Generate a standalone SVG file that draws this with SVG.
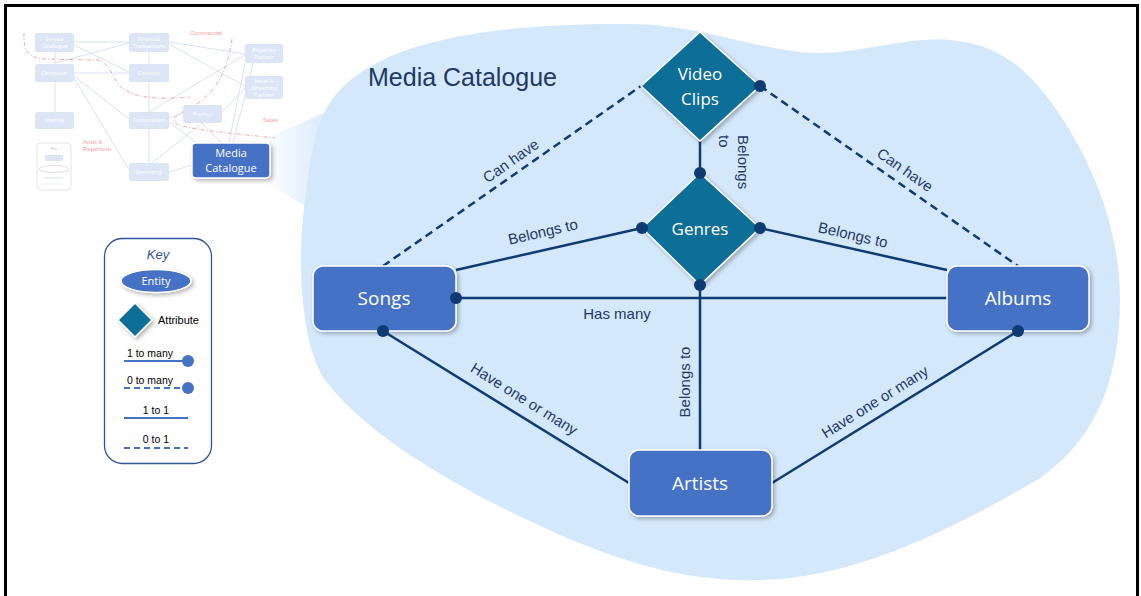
<svg xmlns="http://www.w3.org/2000/svg" width="1141" height="596" viewBox="0 0 1141 596">
<defs>
<style>
.ent{fill:#4472C4;stroke:#fff;stroke-width:1.5}
.attr{fill:#0A6E97;stroke:#fff;stroke-width:1.5}
.ntxt{font-family:"Open Sans","Noto Sans",sans-serif;fill:#fff;text-anchor:middle}
.ln{stroke:#0F3B73;stroke-width:2.5;fill:none}
.dash{stroke-dasharray:8 5}
.dot{fill:#0F3B73}
.lbl{font-family:"Liberation Sans",Arial,sans-serif;font-size:15px;fill:#1F3864;text-anchor:middle}
.mb{fill:#DCE5F5}
.mt{font-family:"Open Sans",sans-serif;font-size:5.5px;fill:#fff;text-anchor:middle}
.ml{stroke:#D9E2F3;stroke-width:1;fill:none}
.red{stroke:#F5AAAA;stroke-width:1;fill:none;stroke-dasharray:4 2 1 2}
.rt{font-family:"Liberation Sans",sans-serif;font-size:6px;fill:#F5A0A0}
.kl{stroke:#4472C4;stroke-width:2;fill:none}
.kt{font-family:"Liberation Sans",Arial,sans-serif;font-size:10.5px;fill:#000;text-anchor:middle}
</style>
<filter id="sh" x="-20%" y="-20%" width="150%" height="150%"><feDropShadow dx="2" dy="2" stdDeviation="2" flood-color="#000" flood-opacity="0.3"/></filter>
<linearGradient id="fan" x1="0" x2="1" y1="0" y2="0"><stop offset="0" stop-color="#D4E8FC" stop-opacity="0"/><stop offset="1" stop-color="#D4E8FC"/></linearGradient>
</defs>
<rect x="0" y="0" width="1141" height="596" fill="#fff"/>

<!-- blob -->
<g id="blob">
<polygon points="262,140 335,108 320,215 262,180" fill="url(#fan)"/>
<path d="M 322,118 C 350,50 460,24 620,24 C 690,22 740,45 800,52 C 850,58 900,36 950,40 C 1000,44 1030,70 1060,115 C 1100,175 1120,240 1120,300 C 1120,380 1095,440 1040,478 C 960,525 860,578 760,580 C 680,582 620,560 560,535 C 470,495 370,440 325,380 C 298,340 298,250 305,200 C 310,160 315,130 322,118 Z" fill="#D4E8FC"/>
</g>

<!-- faded overview diagram -->
<g id="overview">
<g class="ml">
<line x1="74" y1="42" x2="129" y2="42"/>
<line x1="74" y1="45" x2="129" y2="72"/>
<line x1="55" y1="63" x2="129" y2="43"/>
<line x1="55" y1="52" x2="55" y2="64"/>
<line x1="74" y1="73" x2="129" y2="73"/>
<line x1="74" y1="76" x2="129" y2="119"/>
<line x1="74" y1="78" x2="129" y2="170"/>
<line x1="55" y1="82" x2="55" y2="112"/>
<line x1="149" y1="52" x2="149" y2="64"/>
<line x1="149" y1="82" x2="149" y2="112"/>
<line x1="149" y1="129" x2="149" y2="163"/>
<line x1="169" y1="42" x2="245" y2="54"/>
<line x1="169" y1="44" x2="245" y2="86"/>
<line x1="149" y1="112" x2="245" y2="55"/>
<line x1="169" y1="118" x2="183" y2="113"/>
<line x1="222" y1="112" x2="245" y2="88"/>
<line x1="202" y1="123" x2="152" y2="163"/>
<line x1="202" y1="123" x2="222" y2="143"/>
<line x1="169" y1="122" x2="197" y2="143"/>
<line x1="245" y1="63" x2="229" y2="143"/>
<line x1="253" y1="63" x2="233" y2="143"/>
<line x1="169" y1="172" x2="192" y2="165"/>
</g>
<path class="red" d="M 24,33 C 23,50 28,58 45,59 L 97,60 C 110,62 112,78 122,88 C 135,98 160,100 190,97"/>
<path class="red" d="M 232,39 C 228,70 215,95 190,108 C 178,114 170,118 176,124 C 190,130 240,134 275,138"/>
<text class="rt" x="190" y="35">Commercial</text>
<text class="rt" x="263" y="122">Sales</text>
<text class="rt" x="83" y="144">Artist &amp;</text>
<text class="rt" x="83" y="151">Repertoire</text>
<rect class="mb" x="35" y="33" width="39" height="19" rx="2"/>
<text class="mt" x="54.5" y="41">Service</text><text class="mt" x="54.5" y="48">Catalogue</text>
<rect class="mb" x="129" y="33" width="40" height="19" rx="2"/>
<text class="mt" x="149" y="41">Financial</text><text class="mt" x="149" y="48">Transactions</text>
<rect class="mb" x="245" y="44" width="38" height="19" rx="2"/>
<text class="mt" x="264" y="52">Royalties</text><text class="mt" x="264" y="59">Partner</text>
<rect class="mb" x="35" y="64" width="39" height="18" rx="2"/>
<text class="mt" x="54.5" y="75">Composer</text>
<rect class="mb" x="129" y="64" width="40" height="18" rx="2"/>
<text class="mt" x="149" y="75">Contract</text>
<rect class="mb" x="245" y="76" width="38" height="23" rx="2"/>
<text class="mt" x="264" y="83">Retail &amp;</text><text class="mt" x="264" y="90">Streaming</text><text class="mt" x="264" y="97">Partner</text>
<rect class="mb" x="35" y="112" width="39" height="17" rx="2"/>
<text class="mt" x="54.5" y="122">Identity</text>
<rect class="mb" x="129" y="112" width="40" height="17" rx="2"/>
<text class="mt" x="149" y="122">Composition</text>
<rect class="mb" x="183" y="105" width="39" height="18" rx="2"/>
<text class="mt" x="202.5" y="116">Product</text>
<rect class="mb" x="129" y="163" width="40" height="18" rx="2"/>
<text class="mt" x="149" y="174">Recording</text>
<rect x="37" y="143" width="34" height="47" rx="4" fill="#fff" stroke="#DDDDDD" stroke-width="0.8"/>
<text x="54" y="150" font-family="Liberation Sans,sans-serif" font-size="3.5" fill="#BBBBBB" text-anchor="middle">Key</text>
<rect class="mb" x="45" y="155" width="18" height="6"/>
<ellipse cx="54" cy="169" rx="15" ry="3.5" fill="none" stroke="#CCCCCC" stroke-width="0.6"/>
<line x1="44" y1="178" x2="63" y2="178" stroke="#DCE5F5"/>
<line x1="44" y1="184" x2="63" y2="184" stroke="#DCE5F5" stroke-dasharray="2 1"/>
</g>

<g id="mini-media-catalogue">
<rect x="192" y="143" width="78" height="35" rx="4" class="ent" filter="url(#sh)"/>
<text class="ntxt" x="231" y="157" font-size="11">Media</text>
<text class="ntxt" x="231" y="172" font-size="11">Catalogue</text>
</g>

<!-- key -->
<g id="key">
<rect x="104.5" y="238.5" width="107" height="225" rx="18" fill="#fff" stroke="#2F5597" stroke-width="1.3"/>
<text x="158" y="259" font-family="Liberation Sans,Arial,sans-serif" font-size="13" font-style="italic" fill="#2F5597" text-anchor="middle">Key</text>
<ellipse cx="156" cy="281" rx="35" ry="11.5" class="ent" filter="url(#sh)"/>
<text class="ntxt" x="156" y="285" font-size="11">Entity</text>
<polygon points="135,303 152,320 135,337 118,320" class="attr" filter="url(#sh)"/>
<text x="158" y="324" font-family="Liberation Sans,Arial,sans-serif" font-size="11" fill="#000">Attribute</text>
<text class="kt" x="150" y="357">1 to many</text>
<line class="kl" x1="124" y1="361" x2="188" y2="361"/>
<circle cx="188" cy="361" r="6" fill="#4472C4"/>
<text class="kt" x="150" y="384">0 to many</text>
<line class="kl" x1="124" y1="388" x2="188" y2="388" stroke-dasharray="6 4"/>
<circle cx="188" cy="388" r="6" fill="#4472C4"/>
<text class="kt" x="156" y="414">1 to 1</text>
<line class="kl" x1="124" y1="418" x2="188" y2="418"/>
<text class="kt" x="156" y="443">0 to 1</text>
<line class="kl" x1="124" y1="448" x2="188" y2="448" stroke-dasharray="6 4"/>
</g>

<text x="368" y="86" font-family="Liberation Sans,Arial,sans-serif" font-size="25" fill="#1F3864">Media Catalogue</text>

<!-- connectors -->
<g id="connectors">
<line class="ln dash" x1="383" y1="266" x2="641" y2="86"/>
<line class="ln dash" x1="760" y1="86" x2="1018" y2="266"/>
<line class="ln" x1="700" y1="141" x2="700" y2="173"/>
<line class="ln" x1="456" y1="270" x2="642" y2="228"/>
<line class="ln" x1="760" y1="228" x2="947" y2="270"/>
<line class="ln" x1="456" y1="298" x2="947" y2="298"/>
<line class="ln" x1="700" y1="285" x2="700" y2="450"/>
<line class="ln" x1="383" y1="331" x2="629" y2="483"/>
<line class="ln" x1="1018" y1="331" x2="772" y2="483"/>
<g class="lbl">
<text transform="translate(511,161) rotate(-35)" y="5">Can have</text>
<text transform="translate(905,170) rotate(35)" y="5">Can have</text>
<text transform="translate(738,135) rotate(90)" text-anchor="start"><tspan x="0" y="0">Belongs</tspan><tspan x="0" y="19">to</tspan></text>
<text transform="translate(543,232) rotate(-13)" y="5">Belongs to</text>
<text transform="translate(853,235) rotate(13)" y="5">Belongs to</text>
<text x="617" y="319">Has many</text>
<text transform="translate(685,382) rotate(-90)" y="5">Belongs to</text>
<text transform="translate(524,399) rotate(32)" y="5">Have one or many</text>
<text transform="translate(875,402) rotate(-32)" y="5">Have one or many</text>
</g>
</g>

<!-- nodes -->
<g id="video-clips">
<polygon points="700,32 760,86 700,141 641,86" class="attr" filter="url(#sh)"/>
<text class="ntxt" x="700" y="80" font-size="17">Video</text>
<text class="ntxt" x="700" y="105" font-size="17">Clips</text>
</g>
<g id="genres">
<polygon points="700,173 760,228 700,285 642,228" class="attr" filter="url(#sh)"/>
<text class="ntxt" x="700" y="235" font-size="17">Genres</text>
</g>
<g id="songs">
<rect x="313" y="266" width="143" height="65" rx="10" class="ent" filter="url(#sh)"/>
<text class="ntxt" x="384" y="305" font-size="19">Songs</text>
</g>
<g id="albums">
<rect x="947" y="266" width="142" height="65" rx="10" class="ent" filter="url(#sh)"/>
<text class="ntxt" x="1018" y="305" font-size="19">Albums</text>
</g>
<g id="artists">
<rect x="629" y="450" width="143" height="66" rx="10" class="ent" filter="url(#sh)"/>
<text class="ntxt" x="700" y="490" font-size="19">Artists</text>
</g>

<g id="endpoints">
<circle class="dot" cx="760" cy="86" r="6"/>
<circle class="dot" cx="700" cy="173" r="6"/>
<circle class="dot" cx="642" cy="228" r="6"/>
<circle class="dot" cx="760" cy="228" r="6"/>
<circle class="dot" cx="700" cy="285" r="6"/>
<circle class="dot" cx="456" cy="298" r="6"/>
<circle class="dot" cx="383" cy="331" r="6"/>
<circle class="dot" cx="1018" cy="331" r="6"/>
</g>

<rect x="5.5" y="5.5" width="1132" height="600" fill="none" stroke="#000" stroke-width="3"/>
</svg>
